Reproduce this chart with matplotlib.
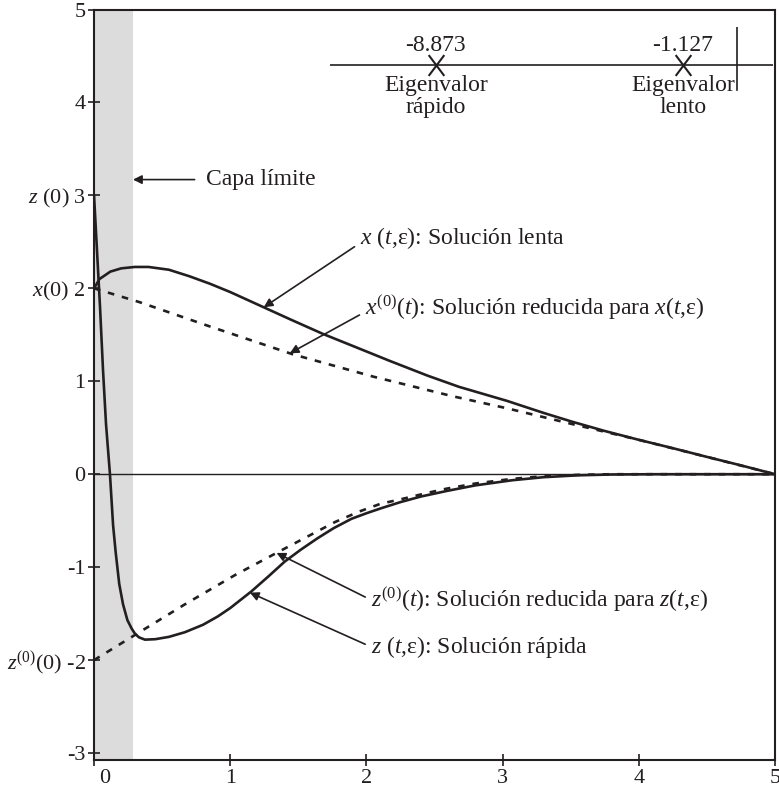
import numpy as np
import matplotlib.pyplot as plt
from matplotlib.path import Path
from matplotlib.transforms import ScaledTranslation

plt.rcParams['font.family'] = ['Liberation Serif', 'DejaVu Serif']
plt.rcParams['mathtext.fontset'] = 'custom'
plt.rcParams['mathtext.rm'] = 'Liberation Serif'
plt.rcParams['mathtext.it'] = 'Liberation Serif:italic'
plt.rcParams['axes.unicode_minus'] = False

INK = '#231f20'

# curves (t, value)
t_x_slow = [0, 0.04, 0.12, 0.2, 0.3, 0.4, 0.55, 0.7, 0.85, 1.0, 1.24, 1.45, 1.68, 1.9,
            2.17, 2.45, 2.68, 3.03, 3.3, 3.51, 3.75, 4.0, 4.25, 4.49, 4.75, 5.0]
x_slow = [2.0, 2.10, 2.18, 2.215, 2.23, 2.23, 2.20, 2.13, 2.05, 1.96, 1.80, 1.66, 1.51, 1.38,
          1.22, 1.06, 0.94, 0.79, 0.66, 0.565, 0.465, 0.37, 0.28, 0.19, 0.095, 0.0]

t_x_red = [0, 0.337, 0.83, 1.46, 2.05, 2.63, 3.03, 3.51, 4.0, 4.49, 5.0]
x_red = [2.0, 1.85, 1.60, 1.29, 1.05, 0.84, 0.71, 0.54, 0.37, 0.19, 0.0]

t_z_fast = [0, 0.022, 0.044, 0.066, 0.088, 0.117, 0.14, 0.159, 0.185, 0.213, 0.245, 0.276,
            0.30, 0.33, 0.374, 0.45, 0.55, 0.667, 0.8, 0.909, 1.0, 1.156, 1.28, 1.40, 1.52,
            1.64, 1.76, 1.89, 2.0, 2.1, 2.25, 2.4, 2.59, 2.8, 3.07, 3.3, 3.55, 3.8, 4.1, 5.0]
z_fast = [3.0, 2.4, 1.80, 1.12, 0.54, 0.0, -0.55, -0.84, -1.18, -1.40, -1.57, -1.66,
          -1.715, -1.755, -1.78, -1.775, -1.75, -1.70, -1.62, -1.53, -1.44, -1.26, -1.10, -0.94, -0.81,
          -0.69, -0.58, -0.48, -0.42, -0.37, -0.30, -0.24, -0.18, -0.12, -0.065, -0.032, -0.012, -0.003, 0.0, 0.0]

t_z_red = [0, 0.30, 0.667, 1.034, 1.40, 1.77, 1.95, 2.10, 2.28, 2.45, 2.59, 2.8, 3.07, 3.3, 3.55, 3.8, 5.0]
z_red = [-2.0, -1.73, -1.40, -1.086, -0.80, -0.514, -0.40, -0.32, -0.26, -0.20, -0.155, -0.10,
         -0.05, -0.022, -0.007, 0.0, 0.0]

layer_end = 0.286

eig_values = [-8.873, -1.127]
eig_labels = ['-8.873', '-1.127']
eig_names = ['rápido', 'lento']

xticks = [0, 1, 2, 3, 4, 5]
yticks = [-3, -2, -1, 0, 1, 2, 3, 4, 5]
ytick_labels = ['-3', '$z^{(0)}$(0) -2', '-1', '0', '1', '$x$(0) 2', '$z$ (0) 3', '4', '5']

fig = plt.figure(figsize=(7.79, 7.92), dpi=100)
ax = fig.add_axes([0.1207, 0.0398, 0.8742, 0.9482])

ax.axvspan(0, layer_end, color='#dcdcdc', lw=0, zorder=0)
ax.axhline(0, color=INK, lw=1.0, zorder=1)

dash = (0, (2.5, 3))
ax.plot(t_x_slow, x_slow, color=INK, lw=1.9, zorder=3)
ax.plot(t_x_red, x_red, color=INK, lw=1.9, ls=dash, zorder=3)
ax.plot(t_z_fast, z_fast, color=INK, lw=1.9, zorder=3)
ax.plot(t_z_red, z_red, color=INK, lw=1.9, ls=dash, zorder=3)

ax.set_xlim(0, 5)
ax.set_ylim(-3.08, 5)
ax.set_xticks(xticks)
ax.set_xticklabels([str(v) for v in xticks])
ax.set_yticks(yticks)
ax.set_yticklabels(ytick_labels)
ax.tick_params(direction='inout', length=9, width=1.2, colors=INK, labelsize=16, pad=1.5)
for s in ax.spines.values():
    s.set_linewidth(1.5)
    s.set_color(INK)

# the "0" label sits a little right of the spine in the original
lbl0 = ax.get_xticklabels()[0]
lbl0.set_transform(lbl0.get_transform() + ScaledTranslation(8 / 72, 0, fig.dpi_scale_trans))

FS = 17
arrow = dict(arrowstyle='-|>', color=INK, lw=1.2, mutation_scale=13, shrinkB=0)

ax.annotate('Capa límite', xy=(layer_end, 3.17), xytext=(0.82, 3.17),
            ha='left', va='center', fontsize=FS, color=INK,
            arrowprops=dict(arrow, shrinkA=6))

t_tip = 1.246
ax.annotate('$x$ ($t$,ε): Solución lenta', xy=(t_tip, np.interp(t_tip, t_x_slow, x_slow)),
            xytext=(1.95, 2.54), ha='left', va='center', fontsize=FS, color=INK,
            arrowprops=dict(arrow, shrinkA=2, relpos=(0, 0.3)))

t_tip = 1.437
ax.annotate('$x^{(0)}$($t$): Solución reducida para $x$($t$,ε)',
            xy=(t_tip, np.interp(t_tip, t_x_red, x_red)),
            xytext=(1.987, 1.79), ha='left', va='center', fontsize=FS, color=INK,
            arrowprops=dict(arrow, shrinkA=2, relpos=(0, 0.35)))

t_tip = 1.34
ax.annotate('$z^{(0)}$($t$): Solución reducida para $z$($t$,ε)',
            xy=(t_tip, np.interp(t_tip, t_z_red, z_red)),
            xytext=(2.03, -1.35), ha='left', va='center', fontsize=FS, color=INK,
            arrowprops=dict(arrow, shrinkA=2, relpos=(0, 0.5)))

t_tip = 1.144
ax.annotate('$z$ ($t$,ε): Solución rápida',
            xy=(t_tip, np.interp(t_tip, t_z_fast, z_fast)),
            xytext=(2.03, -1.855), ha='left', va='center', fontsize=FS, color=INK,
            arrowprops=dict(arrow, shrinkA=2, relpos=(0, 0.5)))

# eigenvalue sketch on the real axis
ax2 = fig.add_axes([330 / 779, 1 - 103 / 792, 443 / 779, 76 / 792])
ax2.set_xlim(-12.19, 1.70)
ax2.set_ylim(-1, 1)
ax2.axis('off')
ax2.axhline(0, color=INK, lw=1.2)
imag_axis_frac = 0.918
ax2.plot([imag_axis_frac, imag_axis_frac], [0.171, 1.0], color=INK, lw=1.2,
         transform=ax2.transAxes)
cross = Path([(-0.75, -1), (0.75, 1), (-0.75, 1), (0.75, -1)],
             [Path.MOVETO, Path.LINETO, Path.MOVETO, Path.LINETO])
ax2.plot(eig_values, [0] * len(eig_values), ls='none', marker=cross, ms=15,
         mec=INK, mfc='none', mew=1.5)
for val, lab, name in zip(eig_values, eig_labels, eig_names):
    ax2.annotate(lab, (val, 0), xytext=(0, 10.3), textcoords='offset points',
                 ha='center', va='baseline', fontsize=FS, color=INK)
    ax2.annotate('Eigenvalor', (val, 0), xytext=(0, -19), textcoords='offset points',
                 ha='center', va='baseline', fontsize=FS, color=INK)
    ax2.annotate(name, (val, 0), xytext=(0, -34.7), textcoords='offset points',
                 ha='center', va='baseline', fontsize=FS, color=INK)

fig.savefig('out.png', dpi=100)
